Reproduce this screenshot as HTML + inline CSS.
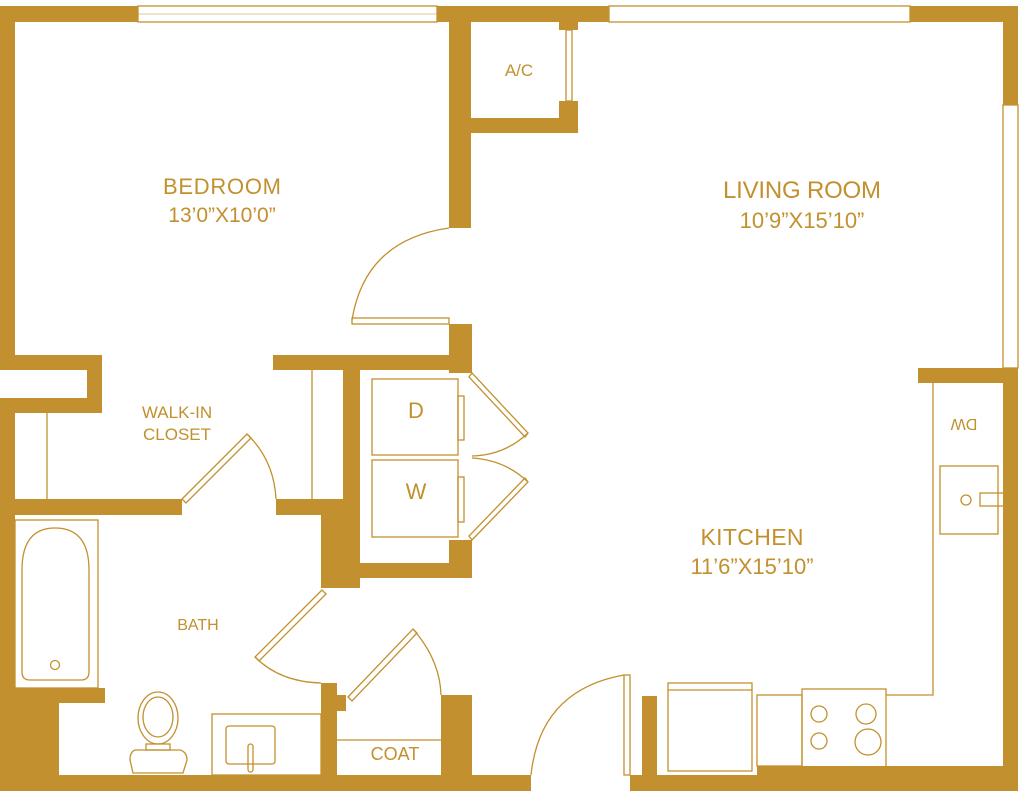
<!DOCTYPE html>
<html><head><meta charset="utf-8"><style>
html,body{margin:0;padding:0;background:#fff;}
svg{display:block;}
text{font-family:"Liberation Sans",sans-serif;fill:#C2902E;text-anchor:middle;}
</style></head><body>
<svg width="1024" height="791" viewBox="0 0 1024 791" xmlns="http://www.w3.org/2000/svg">
<g fill="#C2902E">
<rect x="0" y="6" width="138" height="16"/>
<rect x="437" y="6" width="172" height="16"/>
<rect x="910" y="6" width="108" height="16"/>
<rect x="1003" y="6" width="15" height="99"/>
<rect x="1003" y="368" width="15" height="423"/>
<rect x="918" y="368" width="100" height="15"/>
<rect x="0" y="6" width="15" height="364"/>
<rect x="0" y="355" width="102" height="15"/>
<rect x="87" y="355" width="15" height="58"/>
<rect x="0" y="398" width="102" height="15"/>
<rect x="0" y="398" width="15" height="393"/>
<rect x="449" y="6" width="22" height="222"/>
<rect x="449" y="118" width="129" height="15"/>
<rect x="559" y="22" width="19" height="8"/>
<rect x="559" y="101" width="19" height="32"/>
<rect x="449" y="324" width="23" height="49"/>
<rect x="273" y="355" width="199" height="15"/>
<rect x="343" y="355" width="17" height="223"/>
<rect x="343" y="563" width="129" height="15"/>
<rect x="449" y="540" width="23" height="38"/>
<rect x="0" y="499" width="182" height="16"/>
<rect x="276" y="499" width="60" height="16"/>
<rect x="321" y="499" width="39" height="89"/>
<rect x="0" y="688" width="105" height="15"/>
<rect x="0" y="688" width="59" height="103"/>
<rect x="321" y="683" width="16" height="100"/>
<rect x="337" y="695" width="9" height="16"/>
<rect x="441" y="695" width="31" height="90"/>
<rect x="0" y="775" width="531" height="16"/>
<rect x="630" y="775" width="388" height="16"/>
<rect x="642" y="696" width="15" height="85"/>
<rect x="757" y="766" width="261" height="14"/>
</g>
<g fill="none" stroke="#C2902E" stroke-width="1.3">
<rect x="138" y="6" width="299" height="16"/>
<line x1="138" y1="14" x2="437" y2="14" stroke-width="0.6"/>
<rect x="609" y="6" width="301" height="16"/>
<rect x="1003" y="105" width="15" height="263"/>
<rect x="566" y="30" width="6" height="71"/>
<rect x="352" y="318" width="97" height="6"/>
<path d="M449,228 Q365,240 352,320"/>
<path d="M182,499 L247,434 L251,438 L186,503 Z"/>
<path d="M247,434 Q274,460 276,499"/>
<line x1="47" y1="413" x2="47" y2="499"/>
<line x1="312" y1="370" x2="312" y2="499"/>
<rect x="372" y="379" width="86" height="76"/>
<rect x="372" y="460" width="86" height="77"/>
<rect x="458" y="396" width="6" height="44"/>
<rect x="458" y="477" width="6" height="45"/>
<path d="M472,373 L528,433 L525,437 L469,377 Z"/>
<path d="M472,540 L528,482 L525,478 L469,536 Z"/>
<path d="M528,433 Q505,455 472,456"/>
<path d="M528,482 Q505,460 472,458"/>
<path d="M322,590 L255,657 L259,661 L326,594 Z"/>
<path d="M255,657 Q280,682 321,683"/>
<path d="M348,697 L413,629 L417,633 L352,701 Z"/>
<path d="M413,629 Q440,660 441,695"/>
<line x1="337" y1="740" x2="441" y2="740"/>
<rect x="15" y="520" width="83" height="168"/>
<path d="M22,570 Q22,528 55,528 Q89,528 89,570 L89,672 Q89,680 81,680 L30,680 Q22,680 22,672 Z"/>
<circle cx="55" cy="665" r="4.5"/>
<ellipse cx="158" cy="718" rx="20" ry="26"/>
<ellipse cx="158" cy="717" rx="15" ry="20"/>
<rect x="146" y="744" width="24" height="6"/>
<path d="M135,750 Q130,752 130,760 L133,773 L183,773 L187,760 Q187,752 180,750 Z"/>
<rect x="212" y="714" width="109" height="61"/>
<rect x="226" y="726" width="49" height="38" rx="3"/>
<rect x="248" y="744" width="5" height="28" rx="2.5"/>
<path d="M531,775 Q540,690 624,675"/>
<rect x="624" y="675" width="6" height="100"/>
<rect x="668" y="683" width="84" height="88"/>
<line x1="668" y1="690" x2="752" y2="690"/>
<rect x="757" y="695" width="45" height="71"/>
<rect x="802" y="689" width="84" height="80"/>
<circle cx="819" cy="714" r="8"/>
<circle cx="866" cy="714" r="10"/>
<circle cx="819" cy="741" r="8"/>
<circle cx="868" cy="742" r="13"/>
<polyline points="886,695 933,695 933,383"/>
<rect x="940" y="466" width="58" height="68"/>
<rect x="980" y="493" width="25" height="13"/>
<circle cx="966" cy="500" r="5"/>
</g>
<text x="222" y="194" font-size="22" textLength="118">BEDROOM</text>
<text x="222" y="222" font-size="21">13’0”X10’0”</text>
<text x="802" y="198" font-size="24" textLength="158">LIVING ROOM</text>
<text x="802" y="228" font-size="22">10’9”X15’10”</text>
<text x="752" y="545" font-size="23" textLength="103">KITCHEN</text>
<text x="752" y="574" font-size="22">11’6”X15’10”</text>
<text x="177" y="418" font-size="17">WALK-IN</text>
<text x="177" y="440" font-size="17">CLOSET</text>
<text x="198" y="630" font-size="16">BATH</text>
<text x="395" y="760" font-size="18">COAT</text>
<text x="519" y="76" font-size="17">A/C</text>
<text x="416" y="418" font-size="22">D</text>
<text x="416" y="499" font-size="22">W</text>
<text x="964" y="409" font-size="16" transform="rotate(180 964 414)">DW</text>
</svg>
</body></html>
